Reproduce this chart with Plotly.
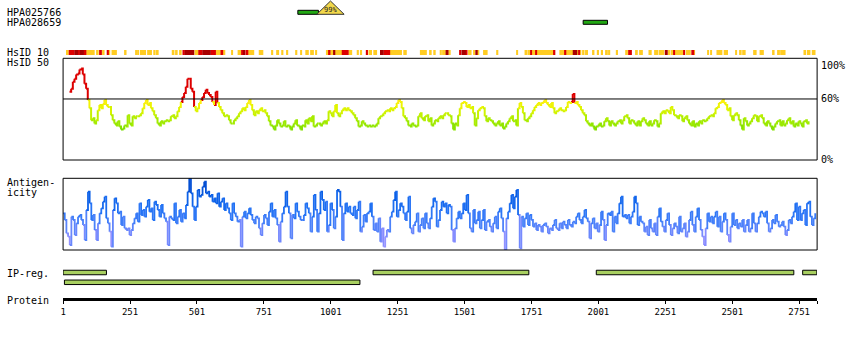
import numpy as np
import plotly.graph_objects as go

W, H = 850, 340
FONT = "DejaVu Sans Mono"

# ---- protein / axis --------------------------------------------------------
PROTEIN_LENGTH = 2818
TICK_RESIDUES = [1, 251, 501, 751, 1001, 1251, 1501, 1751, 2001, 2251, 2501, 2751]

# ---- antibodies ------------------------------------------------------------
AB_NAMES = ["HPA025766", "HPA028659"]
AB_START = [878, 1944]
AB_END = [955, 2035]
AB_MARK_SPAN = [949, 1051]
AB_MARK_LABEL = "99%"

# ---- InterPro regions ------------------------------------------------------
IPREG_ROW = [0, 0, 0, 0, 1]
IPREG_START = [1, 1159, 1993, 2764, 6]
IPREG_END = [163, 1741, 2731, 2817, 1110]

# ---- HsID 10 identity blocks (1 = low, 2 = mid, 3 = high) --------------------
HSID10_START = [
    12, 22, 43, 56, 63, 78, 87, 128, 139, 149,
    164, 171, 182, 231, 271, 279, 288, 315, 338, 347,
    407, 422, 437, 447, 455, 492, 506, 521, 552, 571,
    589, 598, 630, 653, 667, 673, 682, 692, 732, 779,
    797, 816, 834, 868, 887, 906, 924, 943, 983, 993,
    999, 1011, 1017, 1042, 1067, 1098, 1110, 1132, 1142, 1160,
    1185, 1198, 1222, 1272, 1334, 1371, 1384, 1408, 1417, 1430,
    1440, 1483, 1489, 1505, 1514, 1533, 1541, 1551, 1570, 1619,
    1694, 1725, 1737, 1747, 1750, 1768, 1771, 1834, 1855, 1874,
    1880, 1905, 1921, 1926, 1930, 1940, 1951, 1979, 1995, 2010,
    2029, 2038, 2066, 2101, 2112, 2141, 2153, 2188, 2209, 2227,
    2249, 2261, 2271, 2281, 2285, 2318, 2327, 2348, 2358, 2408,
    2420, 2442, 2469, 2513, 2529, 2538, 2579, 2603, 2653, 2672,
    2680, 2767, 2780, 2798,
]
HSID10_END = [
    21, 43, 56, 63, 78, 87, 118, 133, 145, 155,
    171, 176, 201, 237, 275, 284, 310, 332, 345, 357,
    416, 428, 443, 455, 490, 506, 521, 552, 571, 589,
    598, 606, 635, 665, 673, 680, 692, 714, 748, 785,
    807, 823, 841, 875, 893, 918, 937, 949, 993, 999,
    1011, 1017, 1042, 1067, 1080, 1105, 1117, 1139, 1154, 1173,
    1198, 1222, 1266, 1284, 1359, 1377, 1392, 1415, 1430, 1440,
    1448, 1487, 1505, 1511, 1526, 1539, 1549, 1555, 1586, 1626,
    1700, 1735, 1747, 1750, 1768, 1771, 1834, 1839, 1874, 1880,
    1905, 1921, 1926, 1930, 1936, 1948, 1961, 1985, 2002, 2017,
    2035, 2044, 2073, 2110, 2125, 2147, 2166, 2199, 2224, 2246,
    2259, 2268, 2281, 2285, 2318, 2323, 2345, 2358, 2360, 2411,
    2424, 2463, 2484, 2517, 2535, 2550, 2591, 2618, 2658, 2678,
    2699, 2776, 2792, 2811,
]
HSID10_LEVEL = [
    1, 2, 3, 2, 3, 2, 1, 1, 2, 1,
    2, 1, 1, 1, 1, 1, 1, 1, 1, 1,
    1, 1, 1, 2, 3, 1, 2, 3, 2, 1,
    2, 1, 1, 1, 2, 3, 2, 1, 1, 1,
    1, 1, 1, 1, 1, 1, 1, 1, 1, 2,
    1, 3, 1, 2, 1, 1, 1, 2, 1, 1,
    3, 2, 1, 1, 1, 1, 1, 1, 1, 3,
    1, 2, 3, 2, 1, 1, 3, 1, 1, 1,
    1, 1, 1, 2, 1, 2, 1, 2, 1, 2,
    1, 3, 1, 2, 1, 1, 1, 1, 1, 1,
    1, 1, 1, 1, 2, 1, 1, 1, 1, 1,
    3, 1, 1, 2, 1, 2, 1, 2, 1, 1,
    1, 1, 1, 1, 1, 1, 1, 1, 1, 1,
    1, 1, 1, 1,
]
HSID10_COLOURS = {1: "#ffcc22", 2: "#dd0000", 3: "#a80000"}

# ---- HsID 50 conservation profile (%) ---------------------------------------
CONS_FIRST, CONS_LAST = 25, 2786
CONSERVATION = [
    67, 70, 77, 80, 84, 85, 89, 90, 84, 75, 70, 59, 51, 39, 41, 36, 39, 49, 54, 51,
    55, 59, 54, 52, 52, 44, 39, 36, 34, 38, 33, 30, 31, 34, 33, 44, 36, 34, 43, 41,
    43, 43, 44, 46, 51, 56, 59, 54, 56, 51, 48, 44, 41, 36, 34, 38, 36, 38, 39, 38,
    39, 43, 44, 41, 43, 48, 52, 57, 62, 66, 72, 80, 80, 70, 67, 52, 48, 51, 56, 59,
    62, 66, 69, 66, 64, 62, 57, 54, 67, 56, 52, 49, 46, 43, 44, 43, 39, 36, 36, 39,
    41, 43, 46, 48, 51, 49, 52, 56, 59, 54, 49, 44, 48, 46, 49, 51, 48, 49, 46, 43,
    38, 34, 33, 30, 34, 39, 36, 33, 34, 38, 33, 34, 33, 30, 33, 36, 39, 34, 33, 30,
    34, 33, 39, 36, 41, 38, 43, 33, 34, 36, 36, 34, 36, 38, 36, 39, 48, 46, 43, 48,
    54, 46, 43, 46, 49, 51, 49, 51, 49, 48, 46, 44, 41, 38, 33, 34, 38, 36, 34, 33,
    34, 33, 34, 33, 34, 36, 41, 43, 44, 46, 48, 49, 48, 51, 49, 51, 52, 56, 59, 57,
    51, 43, 41, 38, 34, 33, 36, 34, 33, 34, 43, 46, 41, 39, 43, 44, 38, 41, 34, 36,
    39, 38, 41, 43, 41, 44, 46, 46, 44, 43, 36, 30, 36, 34, 44, 51, 56, 57, 56, 52,
    54, 51, 52, 46, 34, 41, 49, 51, 52, 51, 43, 38, 41, 39, 38, 36, 34, 36, 38, 34,
    36, 31, 33, 36, 38, 41, 43, 38, 39, 34, 51, 56, 52, 46, 39, 38, 41, 43, 46, 49,
    52, 54, 56, 54, 56, 57, 59, 56, 54, 52, 56, 51, 46, 48, 49, 51, 49, 48, 49, 52,
    57, 56, 57, 65, 56, 57, 54, 52,
    49, 46, 44, 38, 36, 34, 36, 33, 30, 33, 34, 36, 33, 34, 38, 41, 38, 34, 38, 36,
    34, 36, 38, 39, 36, 39, 43, 44, 41, 36, 39, 38, 36, 34, 38, 34, 38, 41, 39, 36,
    34, 38, 34, 36, 39, 38, 33, 36, 46, 48, 46, 49, 48, 46, 52, 49, 44, 43, 41, 44,
    43, 38, 41, 43, 39, 36, 34, 38, 33, 36, 34, 38, 36, 39, 38, 39, 41, 43, 44, 43,
    46, 51, 52, 56, 57, 59, 56, 54, 49, 51, 43, 39, 44, 46, 44, 39, 34, 30, 41, 38,
    34, 36, 38, 41, 44, 43, 38, 43, 44, 41, 36, 34, 38, 36, 33, 30, 33, 36, 38, 39,
    34, 38, 34, 36, 39, 41, 36, 38, 33, 36, 34, 38, 36, 33, 38, 39, 36, 38,
]
CONS_THRESHOLD = 60

# ---- antigenicity profile (score) -------------------------------------------
ANTIGEN_FIRST, ANTIGEN_LAST = 1, 2811
ANTIGEN_MAX = 43
ANTIGENICITY = [
    22, 18, 10, 8, 3, 20, 18, 9, 16, 20, 21, 18, 15, 6, 24, 35, 28, 18, 21, 12,
    6, 16, 22, 25, 29, 32, 19, 16, 11, 2, 24, 31, 28, 22, 23, 15, 20, 13, 12, 13,
    9, 12, 16, 19, 22, 17, 28, 21, 24, 20, 26, 30, 23, 25, 18, 29, 27, 24, 20, 27,
    22, 19, 17, 3, 20, 19, 18, 28, 16, 20, 24, 17, 22, 19, 27, 35, 43, 34, 26, 18,
    26, 36, 32, 33, 38, 41, 34, 35, 32, 33, 29, 31, 28, 34, 26, 29, 31, 24, 28, 25,
    22, 18, 28, 22, 20, 17, 18, 2, 20, 23, 19, 22, 25, 21, 18, 16, 20, 19, 13, 9,
    16, 21, 19, 15, 23, 28, 20, 24, 19, 15, 5, 17, 22, 26, 35, 26, 22, 7, 21, 19,
    28, 23, 20, 18,
    18, 21, 28, 25, 22, 11, 20, 33, 24, 11, 22, 35, 30, 24, 29, 11, 15, 28, 24, 13,
    20, 36, 35, 26, 6, 22, 28, 23, 26, 22, 21, 26, 19, 24, 29, 11, 14, 21, 17, 22,
    23, 28, 20, 12, 16, 11, 19, 5, 13, 2, 8, 12, 11, 20, 23, 30, 35, 20, 24, 28,
    26, 22, 18, 23, 32, 13, 10, 15, 17, 22, 11, 15, 19, 13, 22, 16, 13, 19, 26, 31,
    29, 14, 18, 24, 29, 26, 28, 22, 27, 26, 12, 5, 13, 19, 23, 19, 22, 28, 24, 33,
    22, 13, 11, 24, 16, 18, 23, 13, 18, 24, 12, 17, 18, 14, 11, 16, 20, 13, 23, 25,
    19, 11, 0, 19, 23, 28, 33, 25, 32, 36, 21, 1, 20, 14, 19, 22, 15, 21, 18, 14,
    16, 12, 15, 14, 11, 15, 16, 14, 10, 13, 12, 15, 18, 13, 12, 16, 13, 17, 15, 13,
    18, 15, 14, 17, 16, 20, 22, 18, 16, 20, 24, 19, 17, 7, 16, 19, 13, 16, 11, 15,
    23, 18, 6, 15, 22, 21, 23, 11, 20, 16, 22, 28, 32, 20, 21, 19, 21, 16, 20, 23,
    32, 28, 15, 20, 17, 16, 11, 14, 9, 18, 13, 11, 16, 9, 20, 25, 17, 14, 11, 18,
    22, 15, 9, 13, 16, 14, 10, 20, 11, 13, 16, 8, 11, 18, 23, 15, 11, 20, 25, 18,
    12, 8, 3, 13, 22, 17, 20, 16, 20, 23, 14, 20, 11, 17, 22, 18, 9, 5, 14, 22,
    15, 18, 13, 16, 14, 18, 11, 15, 18, 11, 13, 22, 16, 11, 16, 20, 23, 22, 20, 23,
    16, 11, 13, 18, 16, 21, 17, 14, 15, 17, 14, 9, 12, 18, 16, 20, 23, 28, 18, 26,
    18, 22, 24, 15, 28, 29, 20, 15, 19, 22,
]

# ---- colour ramps ------------------------------------------------------------
CONS_RAMP = [(28, (110, 215, 0)), (35, (150, 232, 0)), (45, (198, 242, 0)),
             (52, (232, 245, 0)), (59, (255, 238, 20))]
CONS_HIGH = "#dd0000"
ANTIGEN_RAMP = [(0, (178, 160, 255)), (8, (135, 140, 255)), (16, (75, 130, 250)),
                (24, (35, 115, 245)), (32, (10, 95, 230)), (43, (0, 70, 200))]


def ramp_colour(stops, v):
    v = max(stops[0][0], min(stops[-1][0], v))
    for (v0, c0), (v1, c1) in zip(stops, stops[1:]):
        if v <= v1:
            t = (v - v0) / (v1 - v0)
            r, g, b = (round(a + (b_ - a) * t) for a, b_ in zip(c0, c1))
            return f"rgb({r},{g},{b})"
    return "rgb({},{},{})".format(*stops[-1][1])


def cons_colour(v):
    return CONS_HIGH if v >= CONS_THRESHOLD else ramp_colour(CONS_RAMP, v)


def antigen_colour(v):
    return ramp_colour(ANTIGEN_RAMP, v)


def stepped_profile(xs, ys, colour_of, yaxis, width):
    """Step line whose pieces are coloured by their own value."""
    groups = {}
    for i in range(len(xs) - 1):
        c = colour_of(round((ys[i] + ys[i + 1]) / 2))
        gx, gy = groups.setdefault(c, ([], []))
        gx += [xs[i], xs[i + 1], xs[i + 1], None]
        gy += [ys[i], ys[i], ys[i + 1], None]
    return [go.Scatter(x=gx, y=gy, mode="lines", yaxis=yaxis, hoverinfo="skip",
                       line=dict(color=c, width=width))
            for c, (gx, gy) in groups.items()]


fig = go.Figure()

# conservation
cons_x = np.linspace(CONS_FIRST, CONS_LAST, len(CONSERVATION))
for tr in stepped_profile(cons_x, CONSERVATION, cons_colour, "y", 2):
    fig.add_trace(tr)

# antigenicity
ag_x = np.linspace(ANTIGEN_FIRST, ANTIGEN_LAST, len(ANTIGENICITY))
for tr in stepped_profile(ag_x, ANTIGENICITY, antigen_colour, "y2", 1.8):
    fig.add_trace(tr)

# HsID 10 blocks
for level, colour in HSID10_COLOURS.items():
    idx = [i for i, lv in enumerate(HSID10_LEVEL) if lv == level]
    fig.add_trace(go.Bar(
        orientation="h", yaxis="y3", hoverinfo="skip",
        y=[0] * len(idx),
        base=[HSID10_START[i] for i in idx],
        x=[HSID10_END[i] - HSID10_START[i] + 1 for i in idx],
        width=1, marker=dict(color=colour, line=dict(width=0)),
    ))

# antibodies
fig.add_trace(go.Bar(
    orientation="h", yaxis="y4", hoverinfo="skip",
    y=list(range(len(AB_NAMES))), base=AB_START,
    x=[e - s for s, e in zip(AB_START, AB_END)],
    width=0.4, marker=dict(color="#22a814", line=dict(color="black", width=1)),
))
mark_mid = (AB_MARK_SPAN[0] + AB_MARK_SPAN[1]) / 2
fig.add_trace(go.Scatter(
    x=[AB_MARK_SPAN[0], mark_mid, AB_MARK_SPAN[1], AB_MARK_SPAN[0]],
    y=[0.2, -1.13, 0.2, 0.2], yaxis="y4", mode="lines", fill="toself",
    fillcolor="#f2d84a", line=dict(color="#333333", width=1), hoverinfo="skip",
))

# InterPro regions
fig.add_trace(go.Bar(
    orientation="h", yaxis="y5", hoverinfo="skip",
    y=IPREG_ROW, base=IPREG_START,
    x=[e - s for s, e in zip(IPREG_START, IPREG_END)],
    width=0.46, marker=dict(color="#a8cf60", line=dict(color="black", width=1)),
))


def band(top_px, bottom_px):
    return [1 - bottom_px / H, 1 - top_px / H]


hidden = dict(visible=False, showgrid=False, zeroline=False, fixedrange=True, anchor="x")

annotations = []


def left_label(text, centre_px):
    annotations.append(dict(
        text=text, xref="paper", yref="paper", x=2 / W, y=1 - centre_px / H,
        xanchor="left", yanchor="middle", showarrow=False,
        font=dict(family=FONT, size=10, color="black")))


left_label(AB_NAMES[0], 12.5)
left_label(AB_NAMES[1], 22.5)
left_label("HsID 10", 52)
left_label("HsID 50", 62.3)
left_label("Antigen-", 182.8)
left_label("icity", 192.8)
left_label("IP-reg.", 273)
left_label("Protein", 300)

for txt, val, anchor in [("100%", 100, "top"), ("60%", 60, "middle"), ("0%", 0, "middle")]:
    annotations.append(dict(
        text=txt, xref="x domain", yref="y", x=1, y=val, xshift=2,
        xanchor="left", yanchor=anchor, showarrow=False,
        font=dict(family=FONT, size=10, color="black")))

annotations.append(dict(
    text=AB_MARK_LABEL, xref="x", yref="y4", x=mark_mid, y=-0.27,
    xanchor="center", yanchor="middle", showarrow=False,
    font=dict(family=FONT, size=7, color="#222222")))

shapes = [
    dict(type="rect", xref="x domain", yref="y domain", x0=0, x1=1, y0=0, y1=1,
         line=dict(color="black", width=1)),
    dict(type="line", xref="x domain", yref="y", x0=0, x1=1,
         y0=CONS_THRESHOLD, y1=CONS_THRESHOLD, line=dict(color="black", width=1)),
    dict(type="rect", xref="x domain", yref="y2 domain", x0=0, x1=1, y0=0, y1=1,
         line=dict(color="black", width=1)),
]

fig.update_layout(
    width=W, height=H, margin=dict(l=0, r=0, t=0, b=0),
    paper_bgcolor="white", plot_bgcolor="white", showlegend=False,
    barmode="overlay",
    xaxis=dict(
        domain=[60.3 / W, 817 / W], range=[1, PROTEIN_LENGTH],
        anchor="free", position=1 - 299.3 / H,
        showline=True, linewidth=3, linecolor="black",
        ticks="outside", ticklen=3, tickwidth=1, tickcolor="black",
        tickvals=TICK_RESIDUES + [PROTEIN_LENGTH],
        ticktext=[str(t) for t in TICK_RESIDUES] + [""],
        tickfont=dict(family=FONT, size=9, color="black"),
        showgrid=False, zeroline=False, fixedrange=True,
    ),
    yaxis=dict(domain=band(58.3, 160), range=[0, 100], **hidden),
    yaxis2=dict(domain=band(178.3, 250), range=[0, ANTIGEN_MAX], **hidden),
    yaxis3=dict(domain=band(50, 55), range=[-0.5, 0.5], **hidden),
    yaxis4=dict(domain=band(0, 30), range=[1.77, -1.23], **hidden),
    yaxis5=dict(domain=band(265, 290), range=[1.786, -0.765], **hidden),
    annotations=annotations,
    shapes=shapes,
)

fig.write_html("out.html", config={"displayModeBar": False})
